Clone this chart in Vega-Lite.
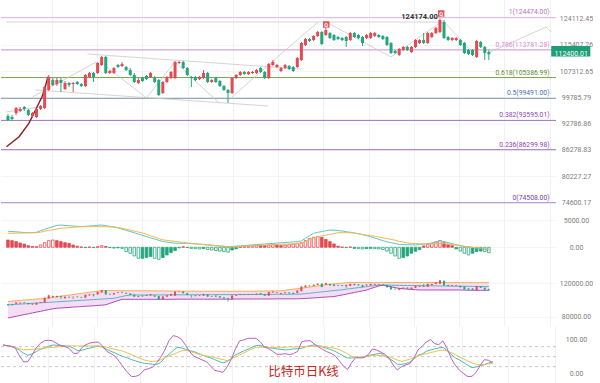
{
"$schema":"https://vega.github.io/schema/vega-lite/v6.json",
"padding":0,
"background":"white",
"spacing":0,
"bounds":"flush",
"config":{"view":{"stroke":null},"axis":{"domain":false,"ticks":false,"tickSize":0,"labelFont":"Roboto","labelFontSize":7,"labelColor":"#7d7d7d","labelOverlap":false,"labelFlush":false}},
"datasets":{
"k":[
{"i":0,"o":94740,"h":95270,"l":93440,"c":93700,"dif":2970,"dea":2590,"hist":1350,"u":98200,"m":94100,"lo":78500,"kk":85,"dd":85,"jj":85},
{"i":1,"o":94480,"h":95000,"l":93440,"c":93960,"dif":2910,"dea":2610,"hist":1230,"u":98600,"m":94500,"lo":79500,"kk":83,"dd":82,"jj":83},
{"i":2,"o":95530,"h":97130,"l":95000,"c":96860,"dif":2860,"dea":2620,"hist":1050,"u":99000,"m":94800,"lo":80500,"kk":81,"dd":80,"jj":81},
{"i":3,"o":96060,"h":97130,"l":95800,"c":96600,"dif":2800,"dea":2640,"hist":800,"u":99500,"m":95100,"lo":81500,"kk":77,"dd":77,"jj":75},
{"i":4,"o":97130,"h":97400,"l":96060,"c":96600,"dif":2730,"dea":2650,"hist":600,"u":99900,"m":95400,"lo":82500,"kk":69,"dd":74,"jj":52},
{"i":5,"o":96330,"h":96600,"l":94740,"c":95000,"dif":2710,"dea":2670,"hist":300,"u":100300,"m":95700,"lo":83500,"kk":60,"dd":70,"jj":34},
{"i":6,"o":94740,"h":95800,"l":94220,"c":95530,"dif":2710,"dea":2680,"hist":150,"u":100700,"m":96000,"lo":84500,"kk":54,"dd":71,"jj":35},
{"i":7,"o":94480,"h":96860,"l":94220,"c":96600,"dif":2770,"dea":2700,"hist":100,"u":101100,"m":96300,"lo":85500,"kk":58,"dd":72,"jj":55},
{"i":8,"o":96600,"h":97670,"l":96330,"c":97400,"dif":3090,"dea":2800,"hist":430,"u":101500,"m":96600,"lo":86400,"kk":65,"dd":73,"jj":76},
{"i":9,"o":96860,"h":102950,"l":96600,"c":102660,"dif":3330,"dea":2990,"hist":860,"u":101900,"m":96900,"lo":87500,"kk":72,"dd":75,"jj":90},
{"i":10,"o":101810,"h":106130,"l":101530,"c":105550,"dif":3570,"dea":3130,"hist":1230,"u":102600,"m":97200,"lo":88500,"kk":76,"dd":76,"jj":98},
{"i":11,"o":104670,"h":105260,"l":102950,"c":103230,"dif":3810,"dea":3260,"hist":1350,"u":103200,"m":97500,"lo":89400,"kk":81,"dd":77,"jj":99},
{"i":12,"o":103520,"h":105260,"l":102950,"c":104670,"dif":4050,"dea":3390,"hist":1230,"u":103900,"m":97800,"lo":90100,"kk":85,"dd":78,"jj":97},
{"i":13,"o":104670,"h":105260,"l":101250,"c":103810,"dif":4120,"dea":3510,"hist":1050,"u":104600,"m":98100,"lo":90500,"kk":84,"dd":79,"jj":89},
{"i":14,"o":102100,"h":104380,"l":101810,"c":103810,"dif":4060,"dea":3560,"hist":860,"u":105200,"m":98400,"lo":90800,"kk":83,"dd":80,"jj":83},
{"i":15,"o":103810,"h":104100,"l":102660,"c":103230,"dif":4000,"dea":3630,"hist":700,"u":105900,"m":98700,"lo":91100,"kk":82,"dd":81,"jj":80},
{"i":16,"o":103520,"h":104100,"l":101250,"c":103810,"dif":3940,"dea":3690,"hist":430,"u":106600,"m":99000,"lo":91500,"kk":81,"dd":82,"jj":74},
{"i":17,"o":104100,"h":104380,"l":103230,"c":103520,"dif":3880,"dea":3750,"hist":200,"u":107300,"m":99300,"lo":91800,"kk":75,"dd":82,"jj":60},
{"i":18,"o":103520,"h":103810,"l":102660,"c":102950,"dif":3820,"dea":3820,"hist":60,"u":107900,"m":99600,"lo":92100,"kk":68,"dd":82,"jj":60},
{"i":19,"o":102950,"h":106430,"l":102660,"c":106130,"dif":3880,"dea":3820,"hist":-60,"u":108600,"m":99900,"lo":92500,"kk":69,"dd":82,"jj":77},
{"i":20,"o":105550,"h":107020,"l":105260,"c":106720,"dif":3940,"dea":3820,"hist":60,"u":109300,"m":100200,"lo":92800,"kk":73,"dd":82,"jj":86},
{"i":21,"o":106720,"h":107020,"l":104100,"c":105550,"dif":4010,"dea":3820,"hist":-60,"u":109900,"m":100500,"lo":93100,"kk":76,"dd":82,"jj":91},
{"i":22,"o":106720,"h":110020,"l":106430,"c":109720,"dif":4070,"dea":3820,"hist":100,"u":110600,"m":100800,"lo":93500,"kk":79,"dd":82,"jj":93},
{"i":23,"o":109110,"h":111870,"l":108810,"c":111560,"dif":4120,"dea":3820,"hist":300,"u":111200,"m":101100,"lo":93800,"kk":82,"dd":82,"jj":94},
{"i":24,"o":111560,"h":111870,"l":106430,"c":106720,"dif":3990,"dea":3810,"hist":150,"u":111200,"m":101400,"lo":94300,"kk":78,"dd":80,"jj":81},
{"i":25,"o":106720,"h":107610,"l":106430,"c":107310,"dif":3870,"dea":3770,"hist":-60,"u":111200,"m":101700,"lo":96000,"kk":72,"dd":78,"jj":66},
{"i":26,"o":106720,"h":108510,"l":106430,"c":108210,"dif":3750,"dea":3740,"hist":-150,"u":111200,"m":102000,"lo":97600,"kk":66,"dd":75,"jj":59},
{"i":27,"o":109110,"h":109420,"l":108210,"c":108510,"dif":3600,"dea":3660,"hist":-100,"u":111100,"m":103100,"lo":99300,"kk":61,"dd":72,"jj":51},
{"i":28,"o":108810,"h":110020,"l":108510,"c":109420,"dif":3370,"dea":3510,"hist":-200,"u":111100,"m":104200,"lo":100800,"kk":55,"dd":69,"jj":36},
{"i":29,"o":108510,"h":108810,"l":107310,"c":107610,"dif":3140,"dea":3340,"hist":-800,"u":111100,"m":105300,"lo":100800,"kk":50,"dd":66,"jj":18},
{"i":30,"o":107610,"h":108210,"l":105840,"c":106130,"dif":2920,"dea":3170,"hist":-1110,"u":111100,"m":106000,"lo":100800,"kk":46,"dd":61,"jj":3},
{"i":31,"o":106130,"h":106720,"l":103810,"c":104100,"dif":2680,"dea":2990,"hist":-1600,"u":111100,"m":106000,"lo":100800,"kk":41,"dd":56,"jj":-10},
{"i":32,"o":103810,"h":105260,"l":103520,"c":104670,"dif":2450,"dea":2820,"hist":-2040,"u":111100,"m":106000,"lo":100800,"kk":37,"dd":50,"jj":-9},
{"i":33,"o":105260,"h":105550,"l":104100,"c":104380,"dif":2220,"dea":2650,"hist":-2040,"u":111000,"m":106000,"lo":100800,"kk":33,"dd":45,"jj":-4},
{"i":34,"o":105840,"h":106130,"l":104670,"c":104960,"dif":1990,"dea":2400,"hist":-1910,"u":111000,"m":106000,"lo":100800,"kk":30,"dd":40,"jj":10},
{"i":35,"o":105550,"h":107020,"l":105260,"c":106720,"dif":1760,"dea":2140,"hist":-1730,"u":111000,"m":106100,"lo":100800,"kk":29,"dd":37,"jj":14},
{"i":36,"o":105260,"h":105840,"l":103810,"c":104100,"dif":1530,"dea":1890,"hist":-2040,"u":111000,"m":106100,"lo":100800,"kk":27,"dd":35,"jj":18},
{"i":37,"o":104670,"h":104960,"l":100140,"c":100410,"dif":1300,"dea":1610,"hist":-2220,"u":110900,"m":106100,"lo":100800,"kk":26,"dd":37,"jj":31},
{"i":38,"o":100970,"h":104380,"l":100690,"c":104100,"dif":1070,"dea":1380,"hist":-1900,"u":110900,"m":106100,"lo":100800,"kk":33,"dd":40,"jj":48},
{"i":39,"o":104100,"h":105840,"l":103810,"c":105550,"dif":960,"dea":1280,"hist":-1420,"u":110800,"m":106100,"lo":100800,"kk":46,"dd":46,"jj":70},
{"i":40,"o":105260,"h":107310,"l":104960,"c":107020,"dif":860,"dea":1190,"hist":-990,"u":110800,"m":106200,"lo":100800,"kk":57,"dd":52,"jj":98},
{"i":41,"o":105260,"h":110330,"l":104960,"c":110020,"dif":760,"dea":1100,"hist":-620,"u":110700,"m":106200,"lo":101000,"kk":68,"dd":57,"jj":113},
{"i":42,"o":109720,"h":110330,"l":109420,"c":110020,"dif":740,"dea":1000,"hist":-100,"u":110700,"m":106200,"lo":101000,"kk":78,"dd":62,"jj":110},
{"i":43,"o":110020,"h":110330,"l":107910,"c":108210,"dif":740,"dea":910,"hist":100,"u":110600,"m":106200,"lo":101000,"kk":76,"dd":67,"jj":102},
{"i":44,"o":108210,"h":108510,"l":105840,"c":106130,"dif":740,"dea":800,"hist":-60,"u":110600,"m":106200,"lo":101000,"kk":72,"dd":69,"jj":84},
{"i":45,"o":105550,"h":105840,"l":102660,"c":105260,"dif":710,"dea":690,"hist":-200,"u":110600,"m":106300,"lo":101000,"kk":68,"dd":66,"jj":65},
{"i":46,"o":105550,"h":105840,"l":104380,"c":104670,"dif":650,"dea":620,"hist":-250,"u":110500,"m":106300,"lo":101000,"kk":65,"dd":62,"jj":51},
{"i":47,"o":104960,"h":105840,"l":104670,"c":105550,"dif":590,"dea":560,"hist":-300,"u":110500,"m":106300,"lo":101000,"kk":60,"dd":58,"jj":46},
{"i":48,"o":105260,"h":107610,"l":104960,"c":106720,"dif":520,"dea":490,"hist":-250,"u":110500,"m":106300,"lo":101000,"kk":55,"dd":55,"jj":40},
{"i":49,"o":106720,"h":107020,"l":103810,"c":104100,"dif":460,"dea":420,"hist":-400,"u":110500,"m":106300,"lo":101000,"kk":50,"dd":52,"jj":35},
{"i":50,"o":104100,"h":104960,"l":103810,"c":104670,"dif":390,"dea":360,"hist":-500,"u":110500,"m":106400,"lo":101000,"kk":46,"dd":50,"jj":22},
{"i":51,"o":105260,"h":105550,"l":103810,"c":104100,"dif":330,"dea":290,"hist":-600,"u":110500,"m":106400,"lo":101000,"kk":41,"dd":47,"jj":9},
{"i":52,"o":104380,"h":104670,"l":102660,"c":102950,"dif":260,"dea":220,"hist":-700,"u":110500,"m":106400,"lo":101000,"kk":36,"dd":44,"jj":6},
{"i":53,"o":102950,"h":103230,"l":101530,"c":101810,"dif":200,"dea":160,"hist":-800,"u":110500,"m":106400,"lo":101000,"kk":31,"dd":41,"jj":3},
{"i":54,"o":101810,"h":102100,"l":98220,"c":100970,"dif":130,"dea":90,"hist":-900,"u":110500,"m":106400,"lo":101000,"kk":35,"dd":38,"jj":19},
{"i":55,"o":100970,"h":105550,"l":100690,"c":105260,"dif":160,"dea":70,"hist":-500,"u":110500,"m":106500,"lo":101000,"kk":44,"dd":43,"jj":42},
{"i":56,"o":105260,"h":106430,"l":104960,"c":106130,"dif":220,"dea":100,"hist":-300,"u":110500,"m":106500,"lo":101200,"kk":55,"dd":49,"jj":73},
{"i":57,"o":106130,"h":107310,"l":105840,"c":107020,"dif":280,"dea":140,"hist":60,"u":110500,"m":106500,"lo":101200,"kk":61,"dd":55,"jj":97},
{"i":58,"o":107020,"h":107310,"l":106130,"c":106430,"dif":330,"dea":180,"hist":100,"u":110500,"m":106500,"lo":101200,"kk":67,"dd":61,"jj":100},
{"i":59,"o":106430,"h":107310,"l":106130,"c":107020,"dif":390,"dea":230,"hist":200,"u":110500,"m":106500,"lo":101200,"kk":72,"dd":67,"jj":105},
{"i":60,"o":106720,"h":107310,"l":106430,"c":107020,"dif":440,"dea":270,"hist":300,"u":110500,"m":106600,"lo":101200,"kk":78,"dd":73,"jj":105},
{"i":61,"o":106720,"h":107910,"l":106430,"c":107610,"dif":500,"dea":320,"hist":430,"u":110600,"m":106600,"lo":101200,"kk":83,"dd":78,"jj":105},
{"i":62,"o":108210,"h":108510,"l":106720,"c":107020,"dif":560,"dea":360,"hist":400,"u":110700,"m":106600,"lo":101200,"kk":84,"dd":78,"jj":94},
{"i":63,"o":107020,"h":107310,"l":104960,"c":105260,"dif":610,"dea":420,"hist":300,"u":110800,"m":106600,"lo":101200,"kk":80,"dd":78,"jj":79},
{"i":64,"o":105260,"h":109720,"l":104960,"c":109420,"dif":670,"dea":450,"hist":400,"u":110800,"m":106600,"lo":101200,"kk":77,"dd":78,"jj":74},
{"i":65,"o":109110,"h":110630,"l":108810,"c":110020,"dif":720,"dea":480,"hist":500,"u":110900,"m":106800,"lo":101200,"kk":75,"dd":78,"jj":66},
{"i":66,"o":108510,"h":109420,"l":108210,"c":109110,"dif":780,"dea":510,"hist":400,"u":110900,"m":106800,"lo":101400,"kk":73,"dd":78,"jj":57},
{"i":67,"o":107310,"h":108510,"l":107020,"c":108210,"dif":840,"dea":550,"hist":300,"u":111000,"m":106800,"lo":101400,"kk":72,"dd":78,"jj":57},
{"i":68,"o":108210,"h":109420,"l":107910,"c":109110,"dif":890,"dea":580,"hist":430,"u":111600,"m":106800,"lo":101400,"kk":70,"dd":78,"jj":59},
{"i":69,"o":108810,"h":109110,"l":107610,"c":107910,"dif":940,"dea":610,"hist":500,"u":112300,"m":106800,"lo":101400,"kk":71,"dd":79,"jj":56},
{"i":70,"o":108510,"h":108810,"l":107020,"c":107310,"dif":1000,"dea":640,"hist":600,"u":112900,"m":107000,"lo":101400,"kk":73,"dd":79,"jj":59},
{"i":71,"o":108510,"h":111560,"l":108210,"c":111250,"dif":1050,"dea":680,"hist":740,"u":113500,"m":107000,"lo":101400,"kk":74,"dd":80,"jj":66},
{"i":72,"o":110630,"h":116290,"l":110330,"c":115970,"dif":1190,"dea":750,"hist":860,"u":114100,"m":107100,"lo":101600,"kk":75,"dd":80,"jj":95},
{"i":73,"o":115320,"h":117590,"l":115010,"c":117260,"dif":1670,"dea":1070,"hist":1230,"u":114800,"m":107600,"lo":101900,"kk":80,"dd":80,"jj":97},
{"i":74,"o":117260,"h":117590,"l":116290,"c":116610,"dif":2150,"dea":1370,"hist":1600,"u":115500,"m":108100,"lo":102200,"kk":83,"dd":81,"jj":98},
{"i":75,"o":116930,"h":118560,"l":116610,"c":118240,"dif":2600,"dea":1680,"hist":1850,"u":116200,"m":108700,"lo":102500,"kk":85,"dd":81,"jj":88},
{"i":76,"o":118240,"h":119890,"l":117910,"c":119550,"dif":2760,"dea":1950,"hist":1970,"u":116900,"m":109200,"lo":102800,"kk":83,"dd":82,"jj":79},
{"i":77,"o":119550,"h":119890,"l":115320,"c":115650,"dif":2910,"dea":2100,"hist":1850,"u":117600,"m":109700,"lo":103200,"kk":79,"dd":81,"jj":72},
{"i":78,"o":118560,"h":120890,"l":118240,"c":120220,"dif":3050,"dea":2250,"hist":1470,"u":118300,"m":110200,"lo":103500,"kk":75,"dd":79,"jj":65},
{"i":79,"o":119220,"h":119550,"l":117260,"c":117590,"dif":3200,"dea":2400,"hist":1050,"u":119000,"m":110800,"lo":103800,"kk":71,"dd":77,"jj":60},
{"i":80,"o":118560,"h":118890,"l":116610,"c":116930,"dif":3160,"dea":2540,"hist":620,"u":119400,"m":111300,"lo":104100,"kk":66,"dd":75,"jj":53},
{"i":81,"o":117910,"h":118240,"l":116930,"c":117260,"dif":3100,"dea":2690,"hist":200,"u":119800,"m":111800,"lo":105100,"kk":59,"dd":71,"jj":38},
{"i":82,"o":117590,"h":117910,"l":116610,"c":116930,"dif":3010,"dea":2710,"hist":60,"u":120200,"m":112200,"lo":106000,"kk":52,"dd":65,"jj":22},
{"i":83,"o":117910,"h":118240,"l":114690,"c":116610,"dif":2890,"dea":2710,"hist":-60,"u":120600,"m":113000,"lo":107000,"kk":46,"dd":59,"jj":11},
{"i":84,"o":116930,"h":119550,"l":116610,"c":119220,"dif":2770,"dea":2710,"hist":60,"u":121000,"m":113600,"lo":108000,"kk":46,"dd":51,"jj":32},
{"i":85,"o":119220,"h":119550,"l":117590,"c":117910,"dif":2650,"dea":2600,"hist":-200,"u":121000,"m":114200,"lo":109000,"kk":47,"dd":48,"jj":47},
{"i":86,"o":118560,"h":118890,"l":117260,"c":117590,"dif":2530,"dea":2490,"hist":-250,"u":121000,"m":114800,"lo":110000,"kk":48,"dd":49,"jj":46},
{"i":87,"o":117910,"h":118240,"l":115010,"c":115970,"dif":2340,"dea":2380,"hist":-300,"u":121000,"m":115400,"lo":110900,"kk":50,"dd":50,"jj":47},
{"i":88,"o":117590,"h":118890,"l":117260,"c":118560,"dif":2150,"dea":2270,"hist":-250,"u":121000,"m":116000,"lo":111900,"kk":53,"dd":51,"jj":56},
{"i":89,"o":117590,"h":119550,"l":117260,"c":119220,"dif":1960,"dea":2160,"hist":-200,"u":121000,"m":116600,"lo":113700,"kk":56,"dd":53,"jj":73},
{"i":90,"o":118240,"h":119550,"l":117910,"c":119220,"dif":1700,"dea":2040,"hist":-250,"u":121000,"m":117200,"lo":115200,"kk":58,"dd":54,"jj":70},
{"i":91,"o":118560,"h":118890,"l":117590,"c":117910,"dif":1460,"dea":1900,"hist":-300,"u":121000,"m":117800,"lo":116800,"kk":60,"dd":53,"jj":64},
{"i":92,"o":118240,"h":118560,"l":116930,"c":117260,"dif":1230,"dea":1760,"hist":-400,"u":121000,"m":117900,"lo":117900,"kk":52,"dd":51,"jj":57},
{"i":93,"o":117910,"h":118240,"l":115010,"c":115320,"dif":1010,"dea":1610,"hist":-700,"u":121000,"m":117800,"lo":116800,"kk":45,"dd":50,"jj":46},
{"i":94,"o":115970,"h":116290,"l":112490,"c":112800,"dif":850,"dea":1460,"hist":-1100,"u":121000,"m":117700,"lo":115800,"kk":37,"dd":45,"jj":25},
{"i":95,"o":113430,"h":113740,"l":112490,"c":112800,"dif":690,"dea":1310,"hist":-1600,"u":121000,"m":117600,"lo":114800,"kk":27,"dd":40,"jj":10},
{"i":96,"o":112180,"h":114370,"l":111870,"c":114060,"dif":550,"dea":1110,"hist":-2040,"u":120900,"m":117500,"lo":113900,"kk":27,"dd":36,"jj":20},
{"i":97,"o":113740,"h":115010,"l":113430,"c":114690,"dif":520,"dea":960,"hist":-1910,"u":120900,"m":117400,"lo":113400,"kk":29,"dd":39,"jj":25},
{"i":98,"o":114690,"h":115010,"l":113430,"c":113740,"dif":490,"dea":810,"hist":-1600,"u":120900,"m":117400,"lo":113000,"kk":33,"dd":42,"jj":29},
{"i":99,"o":113110,"h":115010,"l":112800,"c":114690,"dif":460,"dea":720,"hist":-1100,"u":120900,"m":117300,"lo":112600,"kk":43,"dd":47,"jj":45},
{"i":100,"o":114690,"h":117260,"l":114370,"c":116930,"dif":430,"dea":690,"hist":-740,"u":120900,"m":117200,"lo":112300,"kk":54,"dd":52,"jj":70},
{"i":101,"o":115970,"h":117260,"l":115650,"c":116930,"dif":510,"dea":650,"hist":-430,"u":120900,"m":117100,"lo":112000,"kk":58,"dd":56,"jj":81},
{"i":102,"o":116930,"h":119220,"l":115650,"c":115970,"dif":590,"dea":630,"hist":250,"u":120900,"m":117100,"lo":112000,"kk":66,"dd":59,"jj":94},
{"i":103,"o":115970,"h":119550,"l":115650,"c":119220,"dif":670,"dea":620,"hist":500,"u":120900,"m":117000,"lo":112000,"kk":70,"dd":62,"jj":101},
{"i":104,"o":117910,"h":119550,"l":117590,"c":119220,"dif":770,"dea":630,"hist":740,"u":120900,"m":117000,"lo":112000,"kk":73,"dd":65,"jj":89},
{"i":105,"o":119220,"h":121220,"l":118890,"c":120890,"dif":1000,"dea":670,"hist":1000,"u":120900,"m":116900,"lo":112000,"kk":76,"dd":68,"jj":86},
{"i":106,"o":119550,"h":124174,"l":119220,"c":123590,"dif":1230,"dea":720,"hist":1230,"u":120900,"m":116800,"lo":112000,"kk":78,"dd":70,"jj":97},
{"i":107,"o":122910,"h":123590,"l":117260,"c":117590,"dif":1050,"dea":710,"hist":860,"u":120900,"m":116700,"lo":112000,"kk":68,"dd":67,"jj":75},
{"i":108,"o":117910,"h":118240,"l":116610,"c":116930,"dif":870,"dea":600,"hist":500,"u":120800,"m":116700,"lo":112000,"kk":57,"dd":62,"jj":45},
{"i":109,"o":116930,"h":117910,"l":116610,"c":117590,"dif":680,"dea":490,"hist":300,"u":120800,"m":116600,"lo":112000,"kk":46,"dd":56,"jj":24},
{"i":110,"o":116930,"h":117910,"l":116610,"c":117590,"dif":490,"dea":400,"hist":-300,"u":120800,"m":116500,"lo":112000,"kk":40,"dd":49,"jj":9},
{"i":111,"o":116930,"h":117260,"l":115010,"c":115320,"dif":330,"dea":270,"hist":-700,"u":120800,"m":116500,"lo":112000,"kk":32,"dd":43,"jj":-1},
{"i":112,"o":115970,"h":116290,"l":112490,"c":112800,"dif":180,"dea":140,"hist":-1100,"u":120800,"m":116400,"lo":111800,"kk":24,"dd":37,"jj":-10},
{"i":113,"o":113740,"h":114060,"l":112180,"c":112490,"dif":110,"dea":30,"hist":-1420,"u":120800,"m":116300,"lo":111600,"kk":17,"dd":31,"jj":-9},
{"i":114,"o":113740,"h":114060,"l":111870,"c":112180,"dif":-30,"dea":-30,"hist":-1100,"u":120800,"m":116300,"lo":111600,"kk":19,"dd":27,"jj":3},
{"i":115,"o":111560,"h":116930,"l":111250,"c":116610,"dif":-170,"dea":-80,"hist":-800,"u":120800,"m":116200,"lo":111600,"kk":23,"dd":25,"jj":24},
{"i":116,"o":116290,"h":116610,"l":114370,"c":114690,"dif":-270,"dea":-120,"hist":-700,"u":120800,"m":116100,"lo":111600,"kk":26,"dd":27,"jj":41},
{"i":117,"o":114690,"h":115010,"l":110630,"c":112800,"dif":-370,"dea":-160,"hist":-800,"u":120800,"m":116100,"lo":111600,"kk":31,"dd":28,"jj":39},
{"i":118,"o":113110,"h":113740,"l":110630,"c":112400,"dif":-470,"dea":-190,"hist":-1000,"u":120800,"m":116000,"lo":111600,"kk":35,"dd":30,"jj":31}
],
"fib":[
{"lv":"1","p":124474,"lab":"1(124474.00)"},
{"lv":"0.786","p":113781.28,"lab":"0.786(113781.28)"},
{"lv":"0.618","p":105386.99,"lab":"0.618(105386.99)"},
{"lv":"0.5","p":99491,"lab":"0.5(99491.00)"},
{"lv":"0.382","p":93595.01,"lab":"0.382(93595.01)"},
{"lv":"0.236","p":86299.98,"lab":"0.236(86299.98)"},
{"lv":"0","p":74508,"lab":"0(74508.00)"}
],
"ann":[
{"g":"hz","i":-0.45,"p":122911},{"g":"hz","i":107.2,"p":122911},
{"g":"ct","i":19.52,"p":112488},{"g":"ct","i":71.81,"p":107910},
{"g":"cb","i":6.75,"p":101813},{"g":"cb","i":63.86,"p":97401},
{"g":"z1","i":6.02,"p":99861},{"g":"z1","i":21.69,"p":110024},
{"g":"z2","i":23.61,"p":109111},{"g":"z2","i":33.98,"p":99584},{"g":"z2","i":40.96,"p":110024},{"g":"z2","i":51.81,"p":98215},
{"g":"z3","i":54.94,"p":99861},{"g":"z3","i":71.81,"p":117911},{"g":"z3","i":76.14,"p":122911},
{"g":"z4","i":78.55,"p":122571},{"g":"z4","i":93.98,"p":111558},{"g":"z4","i":106.27,"p":122911},
{"g":"z5","i":107.23,"p":122571},{"g":"z5","i":113.49,"p":113739},
{"g":"z6","i":118.31,"p":113113},{"g":"z6","i":132.05,"p":121222},{"g":"z6","i":133.25,"p":119554},
{"g":"lc","i":-0.45,"p":95797},{"g":"lc","i":7.5,"p":97132}
],
"arc":[
{"i":-0.36,"p":87018},{"i":2.72,"p":89463},{"i":5.13,"p":92844},{"i":7.16,"p":97212},{"i":8.36,"p":99942},{"i":9.16,"p":102747},{"i":9.8,"p":105633}
],
"q":[{"i":78.1,"p":122060},{"i":106.3,"p":125838}],
"pk":[{"i":105.5,"p":124622,"t":"124174.00"}],
"box":[{"i":133.3,"i2":142.9,"p":115030,"p2":111700,"ic":138.2,"pc":112400,"t":"112400.01"}],
"lv":[{"v":20},{"v":50},{"v":80}]
},
"vconcat":[
{
"width":555,"height":207,
"layer":[
{"data":{"name":"fib"},"mark":{"type":"rule","strokeWidth":1},
 "encoding":{"y":{"field":"p","type":"quantitative","title":null,"scale":{"type":"log","domain":[73635,130637],"nice":false,"zero":false}},
 "stroke":{"field":"lv","type":"nominal","legend":null,"scale":{"domain":["1","0.786","0.618","0.5","0.382","0.236","0"],"range":["#e2b8e2","#c890ca","#7aa34a","#7d98ac","#a070bc","#a070bc","#a885cc"]}}}},
{"data":{"name":"ann"},"mark":{"type":"line","strokeWidth":0.8,"color":"#c9c9c9"},
 "encoding":{"x":{"field":"i","type":"quantitative","title":null,"scale":{"domain":[-0.48,133.25],"nice":false,"zero":false}},
 "y":{"field":"p","type":"quantitative","title":null,"scale":{"type":"log","domain":[73635,130637],"nice":false,"zero":false}},
 "detail":{"field":"g"}}},
{"data":{"name":"arc"},"mark":{"type":"line","strokeWidth":1.4,"color":"#8b1c1c"},
 "encoding":{"x":{"field":"i","type":"quantitative","title":null,"scale":{"domain":[-0.48,133.25],"nice":false,"zero":false}},
 "y":{"field":"p","type":"quantitative","title":null,"scale":{"type":"log","domain":[73635,130637],"nice":false,"zero":false}}}},
{"data":{"name":"k"},"mark":{"type":"rule","strokeWidth":1},
 "encoding":{"x":{"field":"i","type":"quantitative","title":null,"scale":{"domain":[-0.48,133.25],"nice":false,"zero":false},"axis":{"values":[10.8,21.9,33,44.1,55.2,66.3,77.4,88.5,99.6,110.7,121.8,132.9],"labels":false,"grid":true,"gridColor":"#f1f1f1","orient":"bottom"}},
 "y":{"field":"l","type":"quantitative","title":null,"scale":{"type":"log","domain":[73635,130637],"nice":false,"zero":false},"axis":{"orient":"right","values":[74600.17,80227.27,86278.83,92786.86,99785.79,107312.65,115407.26,124112.45],"format":".2f","labelPadding":20,"labelAlign":"center","grid":true,"gridColor":"#f5f5f5"}},
 "y2":{"field":"h"},
 "color":{"condition":{"test":"datum.c >= datum.o","value":"#e34a51"},"value":"#23a67d"}}},
{"data":{"name":"k"},"mark":{"type":"bar","size":3},
 "encoding":{"x":{"field":"i","type":"quantitative","title":null,"scale":{"domain":[-0.48,133.25],"nice":false,"zero":false}},
 "y":{"field":"o","type":"quantitative","title":null,"scale":{"type":"log","domain":[73635,130637],"nice":false,"zero":false}},
 "y2":{"field":"c"},
 "color":{"condition":{"test":"datum.c >= datum.o","value":"#e34a51"},"value":"#23a67d"}}},
{"data":{"name":"fib"},"mark":{"type":"text","align":"right","baseline":"bottom","dy":-2,"fontSize":6.8,"font":"Roboto"},
 "encoding":{"x":{"datum":132.9,"type":"quantitative","scale":{"domain":[-0.48,133.25],"nice":false,"zero":false}},
 "y":{"field":"p","type":"quantitative","title":null,"scale":{"type":"log","domain":[73635,130637],"nice":false,"zero":false}},
 "text":{"field":"lab"},
 "color":{"field":"lv","type":"nominal","legend":null,"scale":{"domain":["1","0.786","0.618","0.5","0.382","0.236","0"],"range":["#c274c2","#d68ad6","#5e8a2e","#4f6fae","#8a48b0","#8a48b0","#7a40aa"]}}}},
{"data":{"name":"q"},"mark":{"type":"square","size":42,"filled":true,"opacity":1,"color":"#e05656"},
 "encoding":{"x":{"field":"i","type":"quantitative","title":null,"scale":{"domain":[-0.48,133.25],"nice":false,"zero":false}},
 "y":{"field":"p","type":"quantitative","title":null,"scale":{"type":"log","domain":[73635,130637],"nice":false,"zero":false}}}},
{"data":{"name":"q"},"mark":{"type":"text","text":"Q","fontSize":5.5,"fontWeight":"bold","color":"#ffffff","baseline":"middle","align":"center","font":"Roboto"},
 "encoding":{"x":{"field":"i","type":"quantitative","title":null,"scale":{"domain":[-0.48,133.25],"nice":false,"zero":false}},
 "y":{"field":"p","type":"quantitative","title":null,"scale":{"type":"log","domain":[73635,130637],"nice":false,"zero":false}}}},
{"data":{"name":"pk"},"mark":{"type":"text","align":"right","baseline":"middle","fontSize":7.5,"fontWeight":"bold","color":"#333333","font":"Roboto"},
 "encoding":{"x":{"field":"i","type":"quantitative","title":null,"scale":{"domain":[-0.48,133.25],"nice":false,"zero":false}},
 "y":{"field":"p","type":"quantitative","title":null,"scale":{"type":"log","domain":[73635,130637],"nice":false,"zero":false}},
 "text":{"field":"t"}}},
{"data":{"name":"box"},"mark":{"type":"rect","color":"#1e9e76"},
 "encoding":{"x":{"field":"i","type":"quantitative","title":null,"scale":{"domain":[-0.48,133.25],"nice":false,"zero":false}},"x2":{"field":"i2"},
 "y":{"field":"p","type":"quantitative","title":null,"scale":{"type":"log","domain":[73635,130637],"nice":false,"zero":false}},"y2":{"field":"p2"}}},
{"data":{"name":"box"},"mark":{"type":"text","align":"center","baseline":"middle","fontSize":7,"color":"#ffffff","font":"Roboto"},
 "encoding":{"x":{"field":"ic","type":"quantitative","title":null,"scale":{"domain":[-0.48,133.25],"nice":false,"zero":false}},
 "y":{"field":"pc","type":"quantitative","title":null,"scale":{"type":"log","domain":[73635,130637],"nice":false,"zero":false}},
 "text":{"field":"t"}}}
]
},
{
"width":555,"height":59,
"data":{"name":"k"},
"transform":[{"window":[{"op":"lag","field":"hist","as":"ph"}],"sort":[{"field":"i"}]}],
"layer":[
{"mark":{"type":"bar","size":2.6,"strokeWidth":0.8},
 "encoding":{"x":{"field":"i","type":"quantitative","title":null,"scale":{"domain":[-0.48,133.25],"nice":false,"zero":false},"axis":{"values":[10.8,21.9,33,44.1,55.2,66.3,77.4,88.5,99.6,110.7,121.8,132.9],"labels":false,"grid":true,"gridColor":"#f1f1f1","orient":"bottom"}},
 "y":{"field":"hist","type":"quantitative","title":null,"scale":{"domain":[-3460,7455],"nice":false,"zero":false},"axis":{"orient":"right","values":[0,5000],"format":".2f","labelPadding":20,"labelAlign":"center","grid":true,"gridColor":"#f5f5f5"}},
 "y2":{"datum":0},
 "fill":{"condition":[{"test":"abs(datum.hist) > abs(datum.ph) && datum.hist * datum.ph > 0","value":"#ffffff"},{"test":"datum.hist >= 0","value":"#e34a51"}],"value":"#23a67d"},
 "stroke":{"condition":{"test":"datum.hist >= 0","value":"#e34a51"},"value":"#23a67d"}}},
{"mark":{"type":"line","strokeWidth":1,"color":"#62c4c6"},
 "encoding":{"x":{"field":"i","type":"quantitative","title":null,"scale":{"domain":[-0.48,133.25],"nice":false,"zero":false}},
 "y":{"field":"dif","type":"quantitative","title":null,"scale":{"domain":[-3460,7455],"nice":false,"zero":false}}}},
{"mark":{"type":"line","strokeWidth":1,"color":"#f0b84c"},
 "encoding":{"x":{"field":"i","type":"quantitative","title":null,"scale":{"domain":[-0.48,133.25],"nice":false,"zero":false}},
 "y":{"field":"dea","type":"quantitative","title":null,"scale":{"domain":[-3460,7455],"nice":false,"zero":false}}}}
]
},
{
"width":555,"height":60,
"data":{"name":"k"},
"layer":[
{"mark":{"type":"area","color":"#f1d2f1","opacity":0.75},
 "encoding":{"x":{"field":"i","type":"quantitative","title":null,"scale":{"domain":[-0.48,133.25],"nice":false,"zero":false},"axis":{"values":[10.8,21.9,33,44.1,55.2,66.3,77.4,88.5,99.6,110.7,121.8,132.9],"labels":false,"grid":true,"gridColor":"#f1f1f1","orient":"bottom"}},
 "y":{"field":"u","type":"quantitative","title":null,"scale":{"domain":[68845,140725],"nice":false,"zero":false},"axis":{"orient":"right","values":[80000,100000,120000],"format":".2f","labelPadding":20,"labelAlign":"center","grid":true,"gridColor":"#f5f5f5"}},
 "y2":{"field":"lo"}}},
{"mark":{"type":"line","strokeWidth":1,"color":"#f2b04c"},
 "encoding":{"x":{"field":"i","type":"quantitative","title":null,"scale":{"domain":[-0.48,133.25],"nice":false,"zero":false}},
 "y":{"field":"u","type":"quantitative","title":null,"scale":{"domain":[68845,140725],"nice":false,"zero":false}}}},
{"mark":{"type":"line","strokeWidth":1,"color":"#5cb3c6"},
 "encoding":{"x":{"field":"i","type":"quantitative","title":null,"scale":{"domain":[-0.48,133.25],"nice":false,"zero":false}},
 "y":{"field":"m","type":"quantitative","title":null,"scale":{"domain":[68845,140725],"nice":false,"zero":false}}}},
{"mark":{"type":"line","strokeWidth":1,"color":"#b04cb4"},
 "encoding":{"x":{"field":"i","type":"quantitative","title":null,"scale":{"domain":[-0.48,133.25],"nice":false,"zero":false}},
 "y":{"field":"lo","type":"quantitative","title":null,"scale":{"domain":[68845,140725],"nice":false,"zero":false}}}},
{"mark":{"type":"rule","strokeWidth":0.8},
 "encoding":{"x":{"field":"i","type":"quantitative","title":null,"scale":{"domain":[-0.48,133.25],"nice":false,"zero":false}},
 "y":{"field":"l","type":"quantitative","title":null,"scale":{"domain":[68845,140725],"nice":false,"zero":false}},"y2":{"field":"h"},
 "color":{"condition":{"test":"datum.c >= datum.o","value":"#e34a51"},"value":"#23a67d"}}},
{"mark":{"type":"bar","size":2},
 "encoding":{"x":{"field":"i","type":"quantitative","title":null,"scale":{"domain":[-0.48,133.25],"nice":false,"zero":false}},
 "y":{"field":"o","type":"quantitative","title":null,"scale":{"domain":[68845,140725],"nice":false,"zero":false}},"y2":{"field":"c"},
 "color":{"condition":{"test":"datum.c >= datum.o","value":"#e34a51"},"value":"#23a67d"}}}
]
},
{
"width":555,"height":57,
"layer":[
{"data":{"name":"lv"},"mark":{"type":"rule","strokeDash":[3,3],"color":"#c8c8c8","strokeWidth":1},
 "encoding":{"y":{"field":"v","type":"quantitative","title":null,"scale":{"domain":[-29.1,141.9],"nice":false,"zero":false}}}},
{"data":{"name":"k"},"mark":{"type":"line","strokeWidth":1,"color":"#4dbcb6"},
 "encoding":{"x":{"field":"i","type":"quantitative","title":null,"scale":{"domain":[-0.48,133.25],"nice":false,"zero":false},"axis":{"values":[10.8,21.9,33,44.1,55.2,66.3,77.4,88.5,99.6,110.7,121.8,132.9],"labels":false,"grid":true,"gridColor":"#f1f1f1","orient":"bottom"}},
 "y":{"field":"kk","type":"quantitative","title":null,"scale":{"domain":[-29.1,141.9],"nice":false,"zero":false},"axis":{"orient":"right","values":[0,50,100],"format":".2f","labelPadding":20,"labelAlign":"center","grid":false}}}},
{"data":{"name":"k"},"mark":{"type":"line","strokeWidth":1,"color":"#eebf4e"},
 "encoding":{"x":{"field":"i","type":"quantitative","title":null,"scale":{"domain":[-0.48,133.25],"nice":false,"zero":false}},
 "y":{"field":"dd","type":"quantitative","title":null,"scale":{"domain":[-29.1,141.9],"nice":false,"zero":false}}}},
{"data":{"name":"k"},"mark":{"type":"line","strokeWidth":1,"color":"#b862c0"},
 "encoding":{"x":{"field":"i","type":"quantitative","title":null,"scale":{"domain":[-0.48,133.25],"nice":false,"zero":false}},
 "y":{"field":"jj","type":"quantitative","title":null,"scale":{"domain":[-29.1,141.9],"nice":false,"zero":false}}}},
{"data":{"values":[{"t":"比特币日K线"}]},"mark":{"type":"text","fontSize":12.5,"font":"Noto Sans CJK SC","color":"#c8281e","align":"center","baseline":"middle"},
 "encoding":{"x":{"datum":72.4,"type":"quantitative","scale":{"domain":[-0.48,133.25],"nice":false,"zero":false}},
 "y":{"datum":4,"type":"quantitative","scale":{"domain":[-29.1,141.9],"nice":false,"zero":false}},
 "text":{"field":"t"}}}
]
}
]
}
